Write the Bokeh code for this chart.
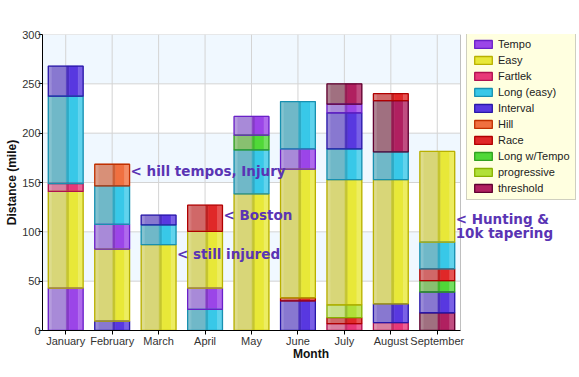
from bokeh.plotting import figure
from bokeh.models import ColumnDataSource, Range1d, FixedTicker, Legend, LegendItem, Label
from bokeh.embed import file_html
from bokeh.resources import INLINE

# ---------------- data ----------------
months = ["January", "February", "March", "April", "May", "June", "July", "August", "September"]
types = ["Tempo", "Easy", "Fartlek", "Long (easy)", "Interval", "Hill", "Race",
         "Long w/Tempo", "progressive", "threshold"]

# stacking order of each month, bottom to top
jan_types = ["Tempo", "Easy", "Fartlek", "Long (easy)", "Interval"]
jan_miles = [43, 98, 8, 88.5, 30.5]
feb_types = ["Interval", "Easy", "Tempo", "Long (easy)", "Hill"]
feb_miles = [9.5, 73, 25, 39, 22]
mar_types = ["Easy", "Long (easy)", "Interval"]
mar_miles = [87, 20, 10]
apr_types = ["Long (easy)", "Tempo", "Easy", "Race"]
apr_miles = [21.5, 21.5, 57.5, 26.5]
may_types = ["Easy", "Long (easy)", "Long w/Tempo", "Tempo"]
may_miles = [138.5, 44.5, 15, 19]
jun_types = ["Interval", "Race", "Easy", "Tempo", "Long (easy)"]
jun_miles = [30, 3, 130.5, 20.5, 48]
jul_types = ["Fartlek", "Race", "progressive", "Easy", "Long (easy)", "Interval", "Tempo", "threshold"]
jul_miles = [7, 6, 13, 127, 31, 36.5, 9, 20.5]
aug_types = ["Fartlek", "Interval", "Easy", "Long (easy)", "threshold", "Race"]
aug_miles = [8, 19, 126, 28, 52, 7]
sep_types = ["threshold", "Interval", "Long w/Tempo", "Race", "Long (easy)", "Easy"]
sep_miles = [18, 21, 11.5, 12, 27, 92]

y_ticks = [0, 50, 100, 150, 200, 250, 300]

note_month = ["February", "April", "March", "September", "September"]
note_y = [162, 117.5, 78, 113.5, 99]
note_text = ["< hill tempos, Injury", "< Boston", "< still injured", "< Hunting &", "10k tapering"]

# ---------------- style ----------------
# (pale left, saturated right, border)
colors = {
    "Tempo":        ("#a88ad8", "#9b45e8", "#6a20c8"),
    "Easy":         ("#d8d678", "#e8e838", "#b8b000"),
    "Fartlek":      ("#d880a0", "#e83878", "#b01050"),
    "Long (easy)":  ("#70b8c8", "#38c8e8", "#1890b0"),
    "Interval":     ("#8878d0", "#5838e0", "#2818a8"),
    "Hill":         ("#d89078", "#f07040", "#c03000"),
    "Race":         ("#d06868", "#e02828", "#b00000"),
    "Long w/Tempo": ("#88c070", "#50d838", "#30a020"),
    "progressive":  ("#c8e088", "#b0e038", "#88b000"),
    "threshold":    ("#a07080", "#b02060", "#600030"),
}


def hex2rgb(h):
    h = h.lstrip("#")
    return tuple(int(h[i:i + 2], 16) for i in (0, 2, 4))


def rgb2hex(c):
    return "#%02x%02x%02x" % tuple(max(0, min(255, int(round(v)))) for v in c)


def mix(a, b, t):
    ca, cb = hex2rgb(a), hex2rgb(b)
    return rgb2hex([ca[i] * (1 - t) + cb[i] * t for i in range(3)])


def shade(a, f):
    return rgb2hex([v * f for v in hex2rgb(a)])


profile = [
    (0.00, 0.10, lambda c: mix(c[0], "#ffffff", 0.15)),
    (0.10, 0.52, lambda c: c[0]),
    (0.52, 0.60, lambda c: shade(c[1], 0.85)),
    (0.60, 0.86, lambda c: c[1]),
    (0.86, 1.00, lambda c: mix(c[1], "#ffffff", 0.2)),
]

BAR_W = 0.75
N = len(months)
PX_PER_CAT = 418.0 / N
X_END = N + 119.0 / PX_PER_CAT   # frame extends to the right edge (legend area)

all_segs = [
    (jan_types, jan_miles), (feb_types, feb_miles), (mar_types, mar_miles),
    (apr_types, apr_miles), (may_types, may_miles), (jun_types, jun_miles),
    (jul_types, jul_miles), (aug_types, aug_miles), (sep_types, sep_miles),
]

strip = dict(x=[], w=[], b=[], t=[], c=[])
outl = dict(x=[], b=[], t=[], c=[])
for mi, (tl, ml) in enumerate(all_segs):
    cx = mi + 0.5
    base = 0.0
    for tname, miles in zip(tl, ml):
        top = base + miles
        col = colors[tname]
        for f0, f1, fn in profile:
            strip["x"].append(cx - BAR_W / 2 + (f0 + f1) / 2 * BAR_W)
            strip["w"].append((f1 - f0) * BAR_W)
            strip["b"].append(base)
            strip["t"].append(top)
            strip["c"].append(fn(col))
        outl["x"].append(cx)
        outl["b"].append(base)
        outl["t"].append(top)
        outl["c"].append(col[2])
        base = top

p = figure(width=579, height=377, output_backend="svg", toolbar_location=None,
           x_range=Range1d(0, X_END), y_range=Range1d(0, 300),
           min_border_left=42, min_border_right=0, min_border_top=34, min_border_bottom=47)
p.background_fill_color = "white"
p.border_fill_color = "white"
p.outline_line_color = None
p.xgrid.visible = False
p.ygrid.visible = False

# plot-area bands and grid, limited to the category area
band_b = [y_ticks[i] for i in range(1, len(y_ticks) - 1, 2)]
band_t = [y_ticks[i + 1] for i in range(1, len(y_ticks) - 1, 2)]
p.quad(left=0, right=N, bottom=band_b, top=band_t, fill_color="#f0f8ff", line_color=None)
p.segment(x0=0, x1=N, y0=y_ticks, y1=y_ticks, line_color="#d4d4d4", line_width=1)
cat_x = [i + 0.5 for i in range(N)]
p.segment(x0=cat_x, x1=cat_x, y0=0, y1=300, line_color="#d4d4d4", line_width=1)
p.segment(x0=[N], x1=[N], y0=[0], y1=[300], line_color="#c0c0c0", line_width=1)

p.vbar(x="x", width="w", bottom="b", top="t", fill_color="c", line_color="c",
       line_width=0.6, source=ColumnDataSource(strip))
p.vbar(x="x", width=BAR_W, bottom="b", top="t", fill_color=None, line_color="c",
       line_width=1.3, source=ColumnDataSource(outl))

# legend proxies (one off-screen zero-height bar each)
items = []
for tname in types:
    col = colors[tname]
    r = p.vbar(x=[-50], bottom=[0], top=[0], width=0.5, fill_color=col[1],
               line_color=col[2], line_width=1.3)
    items.append(LegendItem(label=tname, renderers=[r]))

legend = Legend(items=items, location=(424, 130), orientation="vertical",
                background_fill_color="#ffffe0", background_fill_alpha=1.0,
                border_line_color="#a0a0a0", border_line_width=1,
                padding=5, spacing=4, margin=0, label_height=12,
                glyph_height=10, glyph_width=22, label_standoff=4,
                label_text_font="Liberation Sans", label_text_font_size="11px",
                label_text_color="#222222")
p.add_layout(legend, "center")

# axes
p.xaxis.ticker = FixedTicker(ticks=cat_x)
p.xaxis.major_label_overrides = {i + 0.5: m for i, m in enumerate(months)}
p.xaxis.bounds = (0, N)
p.yaxis.ticker = FixedTicker(ticks=y_ticks)
for ax in (p.xaxis, p.yaxis):
    ax.axis_line_color = "black"
    ax.major_tick_line_color = "black"
    ax.minor_tick_line_color = None
    ax.major_tick_in = 0
    ax.major_tick_out = 4
    ax.major_label_text_font = "Liberation Sans"
    ax.major_label_text_font_size = "11px"
    ax.major_label_text_color = "#333333"
    ax.axis_label_text_font = "Liberation Sans"
    ax.axis_label_text_font_size = "12px"
    ax.axis_label_text_font_style = "bold"
    ax.axis_label_text_color = "#111111"
p.xaxis.axis_label = "Month"
p.yaxis.axis_label = "Distance (mile)"
p.xaxis.major_label_standoff = 0
p.xaxis.axis_label_standoff = -3
p.yaxis.major_label_standoff = -2
p.yaxis.axis_label_standoff = 0

for m, yv, txt in zip(note_month, note_y, note_text):
    xi = months.index(m) + 0.5 + BAR_W / 2
    p.add_layout(Label(x=xi, y=yv, x_offset=1, text=txt, text_baseline="middle",
                       text_align="left", text_font="DejaVu Sans", text_font_style="bold",
                       text_font_size="13.5px", text_color="#5a34b4"))

open("out.html", "w").write(file_html(p, INLINE))
